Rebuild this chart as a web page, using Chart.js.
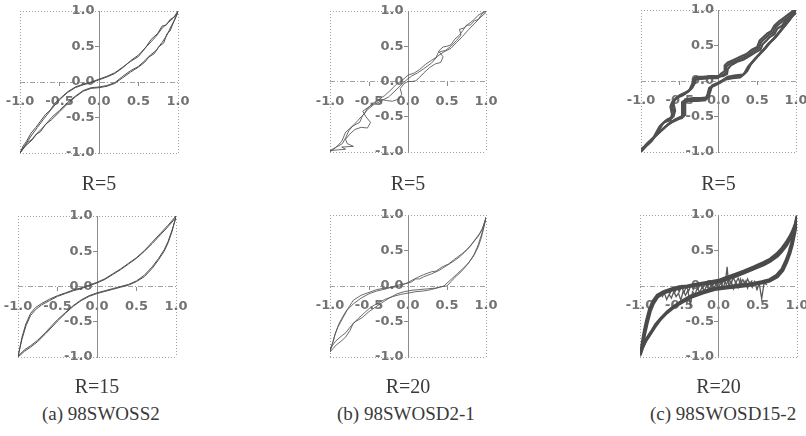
<!DOCTYPE html>
<html><head><meta charset="utf-8">
<script src="https://cdn.jsdelivr.net/npm/chart.js@4.4.0/dist/chart.umd.min.js"></script>
<style>
html,body{margin:0;padding:0;background:#fff;width:806px;height:436px;overflow:hidden;position:relative}
canvas{position:absolute}
.lab{position:absolute;font-family:"Liberation Serif","DejaVu Serif",serif;color:#3a3a3a;white-space:nowrap;line-height:1;z-index:5}
.c{transform:translate(-50%,-50%);font-size:20px}
.l{transform:translate(0,-50%);font-size:19px}
</style></head><body>
<script>
// ---------- DATA ----------
const tickValues = [-1, -0.5, 0, 0.5, 1];
const panelTitles = ['R=5','R=5','R=5','R=15','R=20','R=20'];
const captions = ['(a) 98SWOSS2','(b) 98SWOSD2-1','(c) 98SWOSD15-2'];

// (a) R=5
const A5_loop1 = [[-1,-1],[-0.93,-0.9],[-0.85,-0.82],[-0.78,-0.72],[-0.7,-0.63],[-0.6,-0.5],[-0.5,-0.4],[-0.4,-0.29],[-0.3,-0.2],[-0.2,-0.12],[-0.1,-0.08],[0,-0.07],[0.1,-0.05],[0.2,-0.01],[0.3,0.08],[0.4,0.16],[0.5,0.22],[0.58,0.3],[0.65,0.38],[0.72,0.44],[0.8,0.56],[0.86,0.66],[0.92,0.8],[0.96,0.88],[1,1],
  [0.94,0.9],[0.88,0.84],[0.8,0.76],[0.72,0.64],[0.62,0.52],[0.5,0.38],[0.4,0.3],[0.3,0.2],[0.2,0.12],[0.1,0.07],[0,0.03],[-0.1,-0.01],[-0.2,-0.04],[-0.3,-0.08],[-0.4,-0.15],[-0.5,-0.25],[-0.6,-0.38],[-0.7,-0.52],[-0.78,-0.64],[-0.86,-0.76],[-0.93,-0.88],[-1,-1]];
const A5_loop2 = [[-1,-1],[-0.95,-0.92],[-0.9,-0.85],[-0.84,-0.8],[-0.8,-0.74],[-0.74,-0.7],[-0.68,-0.6],[-0.6,-0.53],[-0.5,-0.42],[-0.4,-0.31],[-0.3,-0.21],[-0.2,-0.13],[-0.1,-0.09],[0,-0.08],[0.1,-0.06],[0.2,-0.02],[0.3,0.06],[0.4,0.14],[0.5,0.21],[0.58,0.28],[0.63,0.35],[0.7,0.4],[0.76,0.5],[0.82,0.55],[0.86,0.68],[0.9,0.72],[0.95,0.86],[1,0.98],
  [0.96,0.92],[0.9,0.88],[0.85,0.8],[0.8,0.79],[0.74,0.68],[0.66,0.6],[0.58,0.47],[0.5,0.36],[0.4,0.29],[0.3,0.21],[0.2,0.13],[0.1,0.08],[0,0.04],[-0.1,0.0],[-0.2,-0.03],[-0.3,-0.07],[-0.4,-0.14],[-0.5,-0.24],[-0.56,-0.3],[-0.62,-0.4],[-0.68,-0.46],[-0.74,-0.55],[-0.8,-0.64],[-0.86,-0.72],[-0.92,-0.84],[-0.96,-0.9],[-1,-1]];

// (b) R=5
const B5_trace1 = [[1,1],[0.95,0.96],[0.9,0.88],[0.85,0.86],[0.8,0.8],[0.75,0.8],[0.7,0.72],[0.66,0.66],[0.6,0.6],[0.55,0.52],[0.5,0.5],[0.45,0.49],[0.4,0.44],[0.36,0.34],[0.3,0.3],[0.22,0.24],[0.15,0.17],[0.08,0.12],[0,0.09],[-0.05,0.04],[-0.1,0.0],[-0.15,-0.04],[-0.22,-0.12],[-0.3,-0.2],[-0.38,-0.26],[-0.45,-0.31],[-0.52,-0.38],[-0.56,-0.46],[-0.6,-0.5],[-0.64,-0.55],[-0.7,-0.62],[-0.76,-0.7],[-0.8,-0.8],[-0.84,-0.88],[-0.9,-0.92],[-0.95,-0.95],[-1,-0.98]];
const B5_trace2 = [[-1,-0.98],[-0.9,-0.97],[-0.8,-0.96],[-0.85,-0.93],[-0.7,-0.92],[-0.78,-0.88],[-0.8,-0.82],[-0.75,-0.75],[-0.68,-0.68],[-0.6,-0.65],[-0.52,-0.66],[-0.48,-0.58],[-0.54,-0.5],[-0.58,-0.42],[-0.5,-0.36],[-0.42,-0.3],[-0.35,-0.25],[-0.28,-0.27],[-0.2,-0.28],[-0.12,-0.25],[-0.08,-0.18],[-0.1,-0.1],[-0.05,-0.03],[0,0.0],[0.05,0.0],[0.1,0.01],[0.15,0.06],[0.2,0.12],[0.28,0.2],[0.35,0.25],[0.42,0.27],[0.45,0.35],[0.4,0.42],[0.48,0.44],[0.55,0.5],[0.62,0.58],[0.68,0.66],[0.66,0.74],[0.72,0.76],[0.78,0.82],[0.85,0.88],[0.9,0.94],[0.96,0.98],[1,1]];
const B5_trace3 = [[-1,-1],[-0.92,-0.93],[-0.85,-0.85],[-0.8,-0.72],[-0.72,-0.64],[-0.62,-0.58],[-0.58,-0.48],[-0.52,-0.4],[-0.44,-0.33],[-0.35,-0.28],[-0.25,-0.22],[-0.18,-0.15],[-0.1,-0.06],[-0.02,0.02],[0.05,0.08],[0.12,0.12],[0.2,0.18],[0.3,0.26],[0.38,0.36],[0.46,0.42],[0.55,0.47],[0.62,0.55],[0.7,0.64],[0.78,0.74],[0.86,0.83],[0.92,0.9],[1,0.98]];

// (c) R=5
const C5_loop1 = [[1,0.98],[0.95,0.96],[0.9,0.9],[0.85,0.86],[0.8,0.82],[0.74,0.76],[0.7,0.68],[0.65,0.65],[0.6,0.6],[0.55,0.55],[0.52,0.46],[0.45,0.42],[0.38,0.36],[0.3,0.32],[0.22,0.28],[0.14,0.24],[0.1,0.2],[0.1,0.12],[0.05,0.08],[0,0.05],[-0.1,0.05],[-0.2,0.05],[-0.3,0.05],[-0.32,0.0],[-0.36,-0.12],[-0.44,-0.18],[-0.52,-0.22],[-0.58,-0.28],[-0.6,-0.34],[-0.58,-0.45],[-0.6,-0.52],[-0.68,-0.56],[-0.74,-0.62],[-0.78,-0.7],[-0.82,-0.78],[-0.88,-0.84],[-0.92,-0.88],[-0.96,-0.94],[-1,-0.98],
  [-0.94,-0.92],[-0.88,-0.86],[-0.84,-0.8],[-0.78,-0.74],[-0.72,-0.68],[-0.66,-0.62],[-0.58,-0.56],[-0.5,-0.52],[-0.45,-0.5],[-0.45,-0.4],[-0.45,-0.28],[-0.35,-0.26],[-0.25,-0.26],[-0.15,-0.25],[-0.12,-0.15],[-0.1,-0.08],[-0.02,-0.04],[0.05,0.0],[0.1,0.04],[0.2,0.06],[0.3,0.07],[0.35,0.12],[0.4,0.22],[0.48,0.32],[0.55,0.4],[0.6,0.46],[0.66,0.54],[0.72,0.6],[0.78,0.68],[0.84,0.76],[0.9,0.84],[0.95,0.92],[1,0.98]];
const C5_loop2 = [[1,0.95],[0.96,0.93],[0.92,0.88],[0.86,0.84],[0.82,0.78],[0.76,0.74],[0.72,0.66],[0.66,0.62],[0.62,0.57],[0.57,0.52],[0.54,0.44],[0.47,0.4],[0.4,0.35],[0.32,0.3],[0.24,0.27],[0.16,0.22],[0.12,0.17],[0.11,0.1],[0.06,0.07],[0.0,0.07],[-0.1,0.07],[-0.2,0.06],[-0.28,0.06],[-0.3,-0.02],[-0.34,-0.1],[-0.42,-0.16],[-0.5,-0.2],[-0.56,-0.26],[-0.58,-0.32],[-0.56,-0.42],[-0.58,-0.5],[-0.66,-0.54],[-0.72,-0.6],[-0.76,-0.68],[-0.8,-0.76],[-0.86,-0.82],[-0.9,-0.88],[-0.95,-0.92],[-1,-0.96],
  [-0.96,-0.93],[-0.9,-0.88],[-0.85,-0.82],[-0.8,-0.76],[-0.74,-0.7],[-0.68,-0.64],[-0.6,-0.58],[-0.52,-0.54],[-0.47,-0.52],[-0.47,-0.42],[-0.47,-0.3],[-0.38,-0.28],[-0.27,-0.28],[-0.17,-0.27],[-0.14,-0.18],[-0.12,-0.1],[-0.04,-0.06],[0.03,-0.02],[0.08,0.02],[0.18,0.04],[0.28,0.05],[0.33,0.1],[0.38,0.2],[0.46,0.3],[0.53,0.38],[0.58,0.44],[0.64,0.52],[0.7,0.58],[0.76,0.66],[0.82,0.74],[0.88,0.82],[0.94,0.9],[1,0.96]];
const C5_loop3 = [[0.98,1],[0.94,0.97],[0.88,0.92],[0.83,0.88],[0.78,0.84],[0.72,0.78],[0.68,0.7],[0.63,0.67],[0.58,0.62],[0.53,0.57],[0.5,0.48],[0.43,0.44],[0.36,0.38],[0.28,0.34],[0.2,0.3],[0.12,0.26],[0.08,0.22],[0.08,0.14],[0.03,0.1],[-0.02,0.04],[-0.12,0.04],[-0.22,0.03],[-0.32,0.03],[-0.34,-0.04],[-0.38,-0.14],[-0.46,-0.2],[-0.54,-0.24],[-0.6,-0.3],[-0.62,-0.36],[-0.6,-0.47],[-0.62,-0.55],[-0.7,-0.58],[-0.76,-0.64],[-0.8,-0.72],[-0.84,-0.8],[-0.9,-0.86],[-0.94,-0.9],[-0.98,-0.96],[-1,-1],
  [-0.92,-0.9],[-0.86,-0.84],[-0.82,-0.78],[-0.76,-0.72],[-0.7,-0.66],[-0.64,-0.6],[-0.56,-0.54],[-0.48,-0.5],[-0.43,-0.48],[-0.43,-0.38],[-0.43,-0.26],[-0.33,-0.24],[-0.23,-0.24],[-0.13,-0.23],[-0.1,-0.13],[-0.08,-0.06],[0.0,-0.02],[0.07,0.02],[0.12,0.06],[0.22,0.08],[0.32,0.09],[0.37,0.14],[0.42,0.24],[0.5,0.34],[0.57,0.42],[0.62,0.48],[0.68,0.56],[0.74,0.62],[0.8,0.7],[0.86,0.78],[0.92,0.86],[0.97,0.94],[1,1]];

// (a) R=15
const A15_loop1 = [[1,1],[0.9,0.87],[0.8,0.75],[0.7,0.63],[0.6,0.51],[0.5,0.41],[0.4,0.33],[0.3,0.25],[0.2,0.18],[0.1,0.11],[0,0.06],[-0.1,0.02],[-0.2,-0.02],[-0.3,-0.05],[-0.4,-0.09],[-0.5,-0.13],[-0.6,-0.18],[-0.7,-0.24],[-0.78,-0.3],[-0.84,-0.38],[-0.9,-0.53],[-0.95,-0.72],[-1,-1],
  [-0.92,-0.92],[-0.84,-0.86],[-0.75,-0.78],[-0.65,-0.67],[-0.5,-0.49],[-0.4,-0.38],[-0.3,-0.28],[-0.2,-0.2],[-0.1,-0.14],[0,-0.1],[0.1,-0.07],[0.2,-0.04],[0.3,-0.01],[0.4,0.02],[0.5,0.07],[0.6,0.14],[0.7,0.26],[0.78,0.38],[0.85,0.5],[0.9,0.62],[0.95,0.78],[1,1]];
const A15_loop2 = [[1,0.98],[0.9,0.85],[0.8,0.73],[0.7,0.61],[0.6,0.5],[0.5,0.4],[0.4,0.32],[0.3,0.24],[0.2,0.17],[0.1,0.1],[0,0.05],[-0.1,0.01],[-0.2,-0.03],[-0.3,-0.06],[-0.4,-0.1],[-0.5,-0.14],[-0.6,-0.2],[-0.7,-0.26],[-0.78,-0.33],[-0.84,-0.41],[-0.9,-0.56],[-0.95,-0.75],[-1,-0.99],
  [-0.92,-0.9],[-0.84,-0.84],[-0.75,-0.76],[-0.65,-0.65],[-0.5,-0.47],[-0.4,-0.37],[-0.3,-0.27],[-0.2,-0.19],[-0.1,-0.13],[0,-0.09],[0.1,-0.06],[0.2,-0.03],[0.3,0.0],[0.4,0.03],[0.5,0.08],[0.6,0.16],[0.7,0.28],[0.78,0.4],[0.85,0.52],[0.9,0.64],[0.95,0.8],[1,0.98]];

// (b) R=20
const B20_upper1 = [[1,0.97],[0.96,0.82],[0.92,0.74],[0.87,0.67],[0.8,0.56],[0.72,0.47],[0.66,0.41],[0.6,0.36],[0.5,0.29],[0.4,0.22],[0.3,0.17],[0.2,0.13],[0.15,0.1],[0.1,0.1],[0.05,0.06],[0,0.04],[-0.1,0.02],[-0.2,-0.01],[-0.28,-0.04],[-0.4,-0.07],[-0.5,-0.11],[-0.6,-0.17],[-0.7,-0.25],[-0.78,-0.34],[-0.84,-0.46],[-0.9,-0.58],[-0.94,-0.7],[-0.97,-0.82],[-1,-0.93]];
const B20_upper2 = [[1,0.95],[0.95,0.8],[0.9,0.7],[0.84,0.62],[0.76,0.52],[0.7,0.46],[0.6,0.38],[0.52,0.31],[0.44,0.27],[0.36,0.21],[0.3,0.2],[0.2,0.16],[0.12,0.12],[0.05,0.08],[0,0.05],[-0.1,0.0],[-0.2,-0.02],[-0.3,-0.03],[-0.4,-0.05],[-0.5,-0.09],[-0.6,-0.13],[-0.7,-0.2],[-0.76,-0.3],[-0.82,-0.4],[-0.88,-0.52],[-0.93,-0.66],[-0.96,-0.78],[-1,-0.9]];
const B20_lower1 = [[-1,-0.9],[-0.97,-0.84],[-0.93,-0.78],[-0.87,-0.72],[-0.8,-0.66],[-0.72,-0.55],[-0.64,-0.46],[-0.56,-0.38],[-0.48,-0.3],[-0.4,-0.25],[-0.3,-0.19],[-0.2,-0.15],[-0.1,-0.12],[0,-0.1],[0.1,-0.08],[0.2,-0.07],[0.3,-0.05],[0.4,-0.02],[0.46,0.0],[0.5,0.04],[0.56,0.1],[0.62,0.16],[0.7,0.24],[0.78,0.33],[0.85,0.45],[0.9,0.58],[0.95,0.75],[1,0.95]];
const B20_lower2 = [[-1,-0.93],[-0.96,-0.88],[-0.92,-0.83],[-0.86,-0.78],[-0.8,-0.72],[-0.74,-0.62],[-0.7,-0.52],[-0.64,-0.48],[-0.58,-0.44],[-0.5,-0.36],[-0.42,-0.3],[-0.34,-0.24],[-0.24,-0.17],[-0.14,-0.11],[-0.05,-0.08],[0.05,-0.06],[0.15,-0.05],[0.25,-0.04],[0.35,-0.03],[0.42,-0.01],[0.5,0.0],[0.55,0.06],[0.6,0.12],[0.68,0.2],[0.76,0.3],[0.84,0.42],[0.9,0.55],[0.94,0.68],[0.98,0.86],[1,0.97]];

// (c) R=20
const C20_loop1 = [[1,0.97],[0.98,0.86],[0.95,0.76],[0.92,0.68],[0.87,0.58],[0.8,0.48],[0.75,0.42],[0.66,0.35],[0.58,0.3],[0.45,0.24],[0.32,0.18],[0.2,0.13],[0.1,0.09],[0.02,0.06],[-0.1,0.04],[-0.27,0.015],[-0.4,-0.01],[-0.49,-0.03],[-0.6,-0.06],[-0.7,-0.1],[-0.78,-0.16],[-0.83,-0.25],[-0.87,-0.36],[-0.91,-0.53],[-0.94,-0.68],[-0.98,-0.9],[-1,-0.98],
  [-0.97,-0.88],[-0.93,-0.78],[-0.87,-0.68],[-0.8,-0.56],[-0.74,-0.47],[-0.66,-0.38],[-0.57,-0.3],[-0.45,-0.22],[-0.35,-0.16],[-0.2,-0.1],[-0.05,-0.05],[0.1,-0.03],[0.25,-0.01],[0.4,0.01],[0.55,0.04],[0.65,0.07],[0.75,0.13],[0.82,0.22],[0.87,0.34],[0.91,0.46],[0.94,0.58],[0.97,0.74],[0.99,0.86],[1,0.97]];
const C20_loop2 = [[1,0.99],[0.98,0.88],[0.95,0.79],[0.91,0.7],[0.86,0.61],[0.8,0.52],[0.74,0.45],[0.66,0.38],[0.57,0.33],[0.45,0.27],[0.32,0.21],[0.2,0.16],[0.1,0.12],[0.0,0.08],[-0.1,0.06],[-0.27,0.03],[-0.4,0.0],[-0.5,-0.01],[-0.6,-0.04],[-0.7,-0.08],[-0.78,-0.13],[-0.84,-0.22],[-0.88,-0.33],[-0.92,-0.5],[-0.95,-0.66],[-0.98,-0.86],[-1,-0.96],
  [-0.97,-0.86],[-0.92,-0.75],[-0.86,-0.65],[-0.8,-0.54],[-0.73,-0.45],[-0.65,-0.36],[-0.56,-0.28],[-0.45,-0.2],[-0.35,-0.14],[-0.2,-0.08],[-0.05,-0.03],[0.1,-0.01],[0.25,0.01],[0.4,0.03],[0.55,0.06],[0.65,0.09],[0.74,0.15],[0.81,0.24],[0.86,0.36],[0.9,0.48],[0.93,0.6],[0.96,0.76],[0.98,0.88],[1,0.99]];
const C20_noise1 = [[-0.72,-0.16],[-0.69,-0.1],[-0.66,-0.19],[-0.63,-0.12],[-0.6,-0.17],[-0.57,-0.08],[-0.54,-0.15],[-0.51,-0.1],[-0.48,-0.2],[-0.45,-0.07],[-0.42,-0.13],[-0.39,-0.06],[-0.36,-0.27],[-0.33,-0.08],[-0.3,-0.12],[-0.27,-0.03],[-0.24,-0.09],[-0.21,-0.02],[-0.18,-0.07],[-0.15,0.01],[-0.12,-0.05],[-0.09,0.03],[-0.06,-0.04],[-0.03,0.04],[0,-0.02],[0.03,0.05],[0.06,-0.03],[0.09,0.08],[0.11,0.27],[0.13,0.0],[0.16,0.07],[0.19,-0.04],[0.22,0.06],[0.25,-0.02],[0.28,0.1],[0.31,0.0],[0.34,0.07],[0.37,-0.03],[0.4,0.05],[0.43,-0.02],[0.46,0.06],[0.49,-0.05],[0.52,0.03],[0.55,-0.18],[0.58,0.04],[0.62,0.02]];
const C20_noise2 = [[-0.65,-0.05],[-0.62,-0.11],[-0.59,-0.03],[-0.56,-0.1],[-0.53,-0.02],[-0.5,-0.08],[-0.47,0.0],[-0.44,-0.09],[-0.41,-0.01],[-0.38,-0.07],[-0.35,0.01],[-0.32,-0.05],[-0.29,0.02],[-0.26,-0.04],[-0.23,0.03],[-0.2,-0.03],[-0.17,0.04],[-0.14,-0.02],[-0.11,0.05],[-0.08,-0.01],[-0.05,0.06],[-0.02,0.0],[0.01,0.07],[0.04,0.01],[0.07,0.09],[0.1,0.02],[0.13,0.1],[0.16,0.03],[0.19,0.12],[0.22,0.04],[0.25,0.11],[0.28,0.03],[0.31,0.09],[0.34,0.02],[0.37,0.1],[0.4,0.03],[0.43,0.08]];

// ---------- LAYOUT ----------
const P = 26;
const panels = [
  {l:20,  t:11,  w:158, h:142, series:[A5_loop1, A5_loop2], color:'#4f4f4f', lw:1},
  {l:330, t:11,  w:156, h:141, series:[B5_trace1, B5_trace2, B5_trace3], color:'#5a5a5a', lw:0.9},
  {l:641, t:10,  w:155, h:142, series:[C5_loop1, C5_loop2, C5_loop3], color:'#505050', lw:2.2},
  {l:18,  t:216, w:158, h:141, series:[A15_loop1, A15_loop2], color:'#4f4f4f', lw:1},
  {l:330, t:215, w:156, h:142, series:[B20_upper1, B20_upper2, B20_lower1, B20_lower2], color:'#5a5a5a', lw:0.9},
  {l:640, t:215, w:157, h:142, series:[C20_loop1, C20_loop2, C20_noise1, C20_noise2], color:'#4a4a4a', lw:3, noiseFrom:2}
];

const tickFont = {family:'"DejaVu Sans", sans-serif', size:13, weight:'bold'};
const tickColor = '#727272';
const fmt = v => (Math.round(v*10)/10).toFixed(1);

panels.forEach((p, idx) => {
  const cv = document.createElement('canvas');
  cv.width = p.w + 2*P; cv.height = p.h + 2*P;
  cv.style.left = (p.l - P) + 'px'; cv.style.top = (p.t - P) + 'px';
  document.body.appendChild(cv);
  const datasets = p.series.map((s, i) => {
    const noisy = p.noiseFrom !== undefined && i >= p.noiseFrom;
    return {
      data: s.map(pt => ({x: pt[0], y: pt[1]})),
      showLine: true, pointRadius: 0, fill: false, tension: 0,
      borderColor: noisy ? '#5a5a5a' : p.color,
      borderWidth: noisy ? 1.3 : p.lw
    };
  });
  new Chart(cv, {
    type: 'scatter',
    data: {datasets},
    options: {
      responsive: false, animation: false, devicePixelRatio: 1,
      layout: {padding: P},
      plugins: {legend: {display: false}, tooltip: {enabled: false}, title: {display: false}},
      scales: {
        x: {
          type: 'linear', min: -1, max: 1, position: {y: 0},
          afterBuildTicks: ax => { ax.ticks = tickValues.map(v => ({value: v})); },
          ticks: {callback: v => fmt(v), font: tickFont, color: tickColor, padding: 8, autoSkip: false, maxRotation: 0},
          grid: {
            color: c => (c.tick && Math.abs(c.tick.value) === 1) ? '#a0a0a0' : 'rgba(0,0,0,0)',
            lineWidth: 1, drawTicks: true, tickLength: 4,
            tickColor: c => (c.tick && Math.abs(c.tick.value) === 0.5) ? '#8a8a8a' : 'rgba(0,0,0,0)'
          },
          border: {display: false, dash: [1, 2]}
        },
        y: {
          type: 'linear', min: -1, max: 1, position: {x: 0},
          afterBuildTicks: ax => { ax.ticks = tickValues.map(v => ({value: v})); },
          ticks: {callback: v => fmt(v) + ' ', font: tickFont, color: tickColor, autoSkip: false},
          grid: {
            color: c => (c.tick && (Math.abs(c.tick.value) === 1 || c.tick.value === 0)) ? '#a0a0a0' : 'rgba(0,0,0,0)',
            lineWidth: 1, drawTicks: true, tickLength: 4,
            tickColor: c => (c.tick && Math.abs(c.tick.value) === 0.5) ? '#8a8a8a' : 'rgba(0,0,0,0)'
          },
          border: {display: true, color: '#8c8c8c', width: 1,
                   dash: c => (c.tick && c.tick.value === 0) ? [5, 2, 1, 2] : [1, 2]}
        }
      }
    }
  });
  const t = document.createElement('div');
  t.className = 'lab c';
  t.textContent = panelTitles[idx];
  t.style.left = (p.l + p.w/2) + 'px';
  t.style.top = (idx < 3 ? 183 : 386) + 'px';
  document.body.appendChild(t);
});

const capX = [42, 337, 650];
captions.forEach((c, i) => {
  const d = document.createElement('div');
  d.className = 'lab l';
  d.textContent = c;
  d.style.left = capX[i] + 'px';
  d.style.top = '413px';
  document.body.appendChild(d);
});
</script>
</body></html>
